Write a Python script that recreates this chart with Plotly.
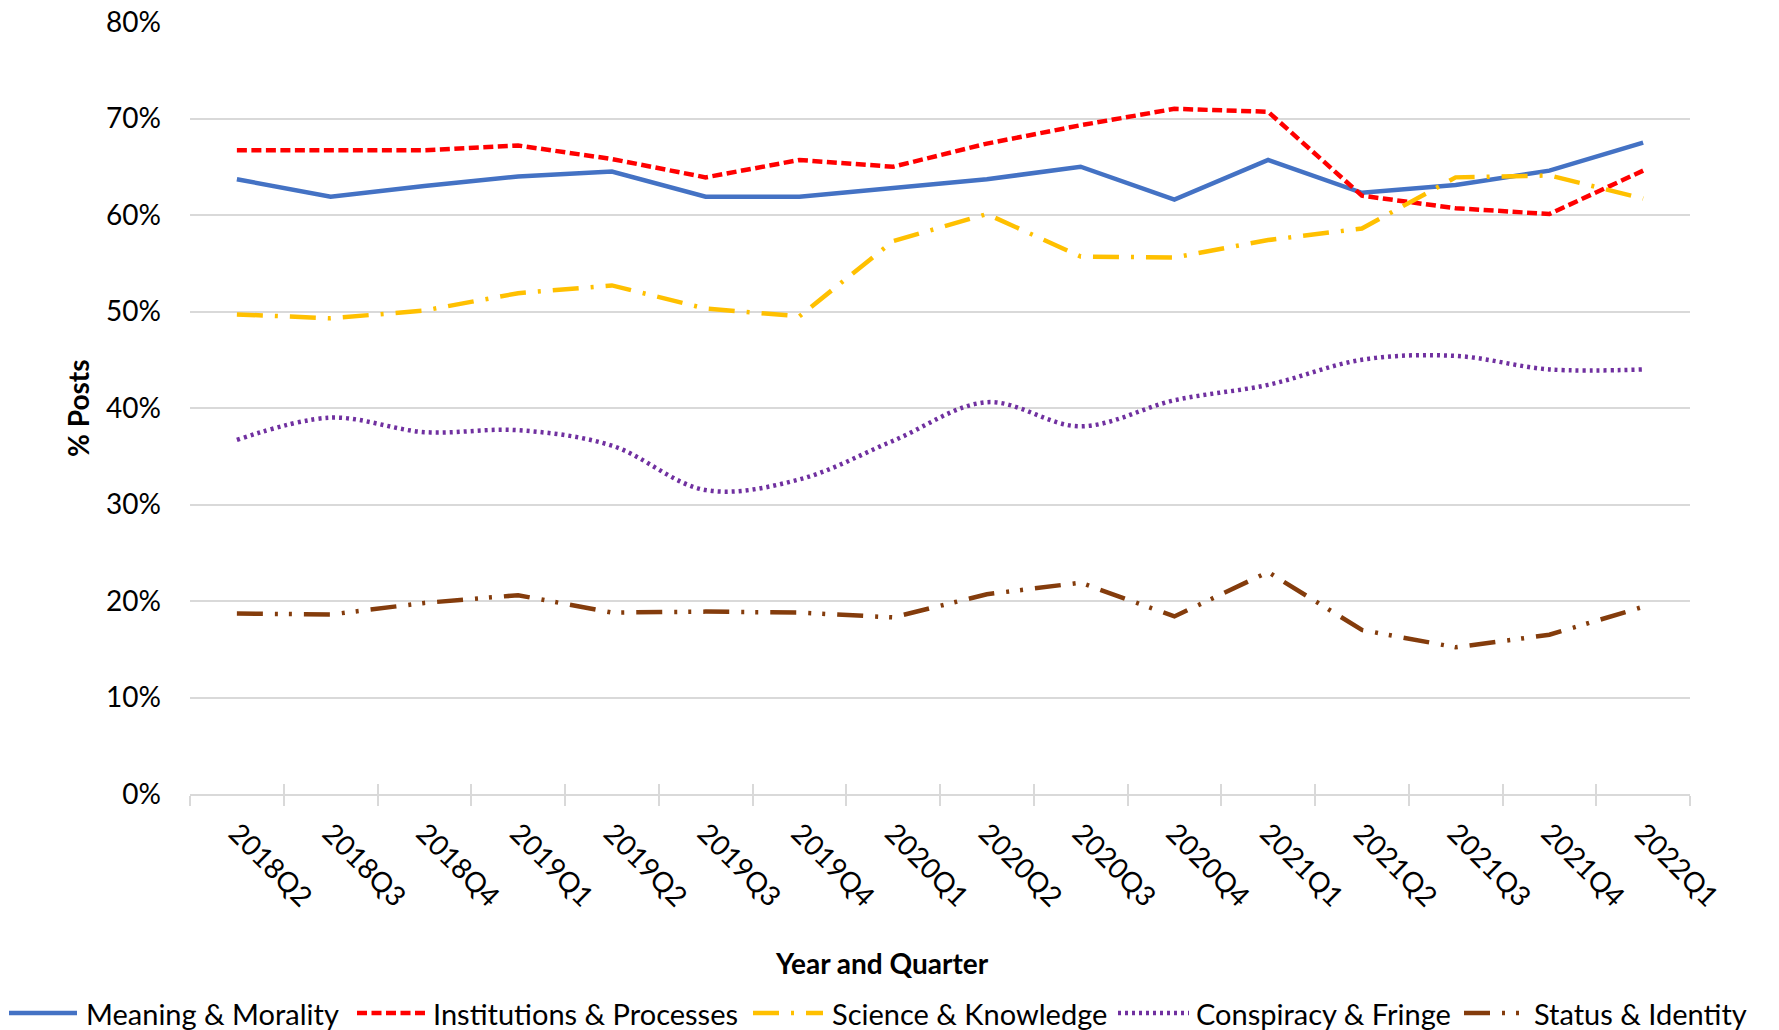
import plotly.graph_objects as go

quarters = ["2018Q2", "2018Q3", "2018Q4", "2019Q1", "2019Q2", "2019Q3", "2019Q4", "2020Q1",
            "2020Q2", "2020Q3", "2020Q4", "2021Q1", "2021Q2", "2021Q3", "2021Q4", "2022Q1"]

meaning_morality = [63.7, 61.9, 63.0, 64.0, 64.5, 61.9, 61.9, 62.8, 63.7, 65.0, 61.6, 65.7, 62.3, 63.1, 64.6, 67.5]
institutions_processes = [66.7, 66.7, 66.7, 67.2, 65.8, 63.9, 65.7, 65.0, 67.4, 69.3, 71.0, 70.7, 62.0, 60.7, 60.1, 64.6]
science_knowledge = [49.7, 49.3, 50.1, 51.9, 52.7, 50.3, 49.5, 57.3, 60.1, 55.7, 55.6, 57.4, 58.6, 63.9, 64.1, 61.7]
conspiracy_fringe = [36.7, 39.0, 37.5, 37.7, 36.1, 31.5, 32.6, 36.6, 40.6, 38.1, 40.8, 42.4, 45.0, 45.4, 44.0, 44.0]
status_identity = [18.7, 18.6, 19.8, 20.6, 18.8, 18.9, 18.8, 18.3, 20.7, 21.9, 18.4, 23.0, 17.0, 15.2, 16.5, 19.4]

y_ticks = [0, 10, 20, 30, 40, 50, 60, 70, 80]
y_tick_labels = ["0%", "10%", "20%", "30%", "40%", "50%", "60%", "70%", "80%"]

series_names = ["Meaning & Morality", "Institutions & Processes", "Science & Knowledge",
                "Conspiracy & Fringe", "Status & Identity"]
series_values = [meaning_morality, institutions_processes, science_knowledge,
                 conspiracy_fringe, status_identity]
series_colors = ["#4472C4", "#FF0000", "#FFC000", "#7030A0", "#843C0C"]
series_dashes = ["solid", "10px,4.5px", "26px,12px,3px,12px", "3px,4px", "26px,12px,3px,11px,3px,12px"]
series_shapes = ["linear", "linear", "linear", "spline", "linear"]

# legend layout (pixel positions of each legend entry: symbol start, symbol end, text start)
legend_sym_x0 = [9, 357, 753, 1118, 1464]
legend_sym_x1 = [77, 425, 823, 1189, 1527]
legend_text_x = [86, 433, 832, 1196, 1534]

FONT = "Lato, 'Open Sans', sans-serif"
W, H = 1779, 1030
ML, MR, MT, MB = 190, 89, 22, 236
PW = W - ML - MR
PH = H - MT - MB


def px_to_paper_x(px):
    return (px - ML) / PW


def py_to_paper_y(py):
    return (H - MB - py) / PH


fig = go.Figure()
for name, vals, color, dash, shape in zip(series_names, series_values, series_colors,
                                          series_dashes, series_shapes):
    fig.add_trace(go.Scatter(
        x=quarters, y=vals, name=name, mode="lines", showlegend=False,
        line=dict(color=color, width=4.5, dash=dash, shape=shape,
                  smoothing=1.0 if shape == "spline" else None),
    ))

# decorative inside tick marks so ticks cross the baseline
fig.add_trace(go.Scatter(x=quarters, y=[None] * len(quarters), xaxis="x2",
                         showlegend=False, hoverinfo="skip"))

shapes = []
annotations = [
    dict(text="<b>% Posts</b>", xref="paper", yref="paper", x=px_to_paper_x(78), y=0.5,
         textangle=-90, showarrow=False, font=dict(size=28), xanchor="center", yanchor="middle"),
    dict(text="<b>Year and Quarter</b>", xref="paper", yref="paper", x=px_to_paper_x(882),
         y=py_to_paper_y(963), showarrow=False, font=dict(size=28),
         xanchor="center", yanchor="middle"),
]
leg_y = py_to_paper_y(1013)
for name, color, dash, x0, x1, tx in zip(series_names, series_colors, series_dashes,
                                         legend_sym_x0, legend_sym_x1, legend_text_x):
    shapes.append(dict(type="line", xref="paper", yref="paper",
                       x0=px_to_paper_x(x0), x1=px_to_paper_x(x1), y0=leg_y, y1=leg_y,
                       line=dict(color=color, width=4.5, dash=dash)))
    annotations.append(dict(text=name, xref="paper", yref="paper", x=px_to_paper_x(tx), y=leg_y,
                            showarrow=False, xanchor="left", yanchor="middle",
                            font=dict(size=29), xshift=-2))

fig.update_layout(
    width=W, height=H,
    margin=dict(l=ML, r=MR, t=MT, b=MB, autoexpand=False),
    paper_bgcolor="white", plot_bgcolor="white",
    font=dict(family=FONT, size=28, color="#000000"),
    showlegend=False,
    xaxis=dict(type="category", range=[-0.5, 15.5], tickson="boundaries", ticks="outside",
               ticklen=10, tickcolor="#d9d9d9", tickwidth=1.5, showgrid=False,
               showline=True, linecolor="#d9d9d9", linewidth=1.5, ticklabelstandoff=10,
               tickangle=45, tickfont=dict(size=28), zeroline=False, automargin=False),
    xaxis2=dict(type="category", overlaying="x", matches="x", side="bottom", anchor="y",
                tickson="boundaries", ticks="inside", ticklen=10, tickcolor="#d9d9d9",
                tickwidth=1.5, showticklabels=False, showgrid=False, showline=False,
                zeroline=False),
    yaxis=dict(range=[0, 80], tickvals=y_ticks, ticktext=y_tick_labels,
               showgrid=True, gridcolor="#d9d9d9", gridwidth=1.5,
               zeroline=False, showline=False, ticks="", ticklabelstandoff=28,
               tickfont=dict(size=28), automargin=False),
    shapes=shapes,
    annotations=annotations,
)

fig.write_html("out.html", config={"displayModeBar": False},
               post_script="document.body.style.margin='0';document.body.style.overflow='hidden';")
